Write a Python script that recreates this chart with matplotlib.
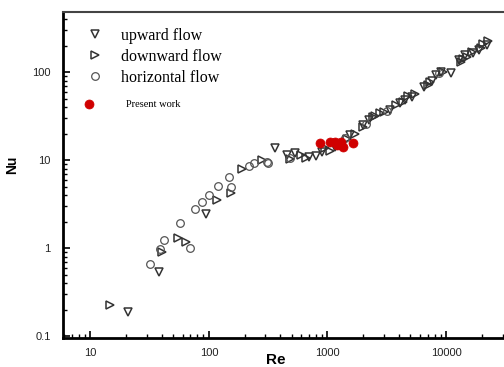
import matplotlib
matplotlib.use("Agg")
import matplotlib.pyplot as plt
from matplotlib.ticker import LogLocator, NullFormatter, FixedLocator, FixedFormatter

# ---- data ----
up_re = [20.7, 37.9, 95, 361, 457, 536, 700, 800, 906, 1150, 1540, 1990, 2260, 3370,
         4100, 4530, 5200, 6460, 7600, 8300, 9000, 11000, 12800, 14500, 17000, 19000, 22000]
up_nu = [0.187, 0.53, 2.43, 13.7, 11.4, 12.0, 10.9, 11.0, 12.3, 14.0, 19.2, 25, 28.5, 37,
         44, 48, 52, 67.5, 80, 92, 100, 97, 137, 155, 164, 180, 203]

down_re = [14.8, 40.2, 55, 64.6, 116, 155, 189, 283, 480, 600, 660, 960, 1050, 1200, 1450,
           1720, 2000, 2420, 2510, 2800, 3000, 3790, 4300, 4800, 5500, 7000, 7370, 9500,
           13500, 14000, 15000, 16500, 19600, 20500, 22500]
down_nu = [0.225, 0.90, 1.30, 1.17, 3.5, 4.2, 7.9, 10.0, 10.2, 11.5, 10.5, 13.7, 12.8, 15.5,
           17.5, 20, 24, 30.9, 32, 34, 35, 42, 46, 54, 57, 72, 77, 100,
           130, 140, 148, 170, 187, 210, 225]

hor_re = [31.8, 38.7, 41.8, 57, 69.7, 76.7, 88, 100, 120, 149, 155, 217, 240, 309, 318,
          480, 1400, 2100, 3200, 8800]
hor_nu = [0.66, 0.97, 1.23, 1.92, 1.0, 2.77, 3.33, 4.0, 5.07, 6.4, 4.9, 8.5, 9.2, 9.5, 9.3,
          10.5, 18, 26, 36, 98]

pw_re = [870, 1060, 1150, 1200, 1290, 1290, 1340, 1630]
pw_nu = [15.6, 16.0, 16.0, 15.0, 16.0, 14.8, 14.1, 15.5]

x_ticks = [10, 100, 1000, 10000]
x_labels = ["10", "100", "1000", "10000"]
y_ticks = [0.1, 1, 10, 100]
y_labels = ["0.1", "1", "10", "100"]

# ---- figure ----
fig = plt.figure(figsize=(5.04, 3.67), dpi=100)
fig.patch.set_facecolor("white")
ax = fig.add_axes([63/504, 29/367, 445/504, 326/367])
ax.set_xscale("log")
ax.set_yscale("log")
ax.set_xlim(5.89, 33300)
ax.set_ylim(0.095, 481)

ec = "#333333"
ms = 6
h1, = ax.plot(up_re, up_nu, ls="none", marker="v", ms=ms, mfc="none", mec=ec, mew=1.1)
h2, = ax.plot(down_re, down_nu, ls="none", marker=">", ms=ms, mfc="none", mec=ec, mew=1.1)
h3, = ax.plot(hor_re, hor_nu, ls="none", marker="o", ms=5.5, mfc="none", mec="#555555", mew=0.9)
h4, = ax.plot(pw_re, pw_nu, ls="none", marker="o", ms=6.5, mfc="#d00000", mec="#d00000", mew=0.5)

serif = "Liberation Serif"
leg1 = ax.legend([h1, h2, h3], ["upward flow", "downward flow", "horizontal flow"],
                 loc="upper left", bbox_to_anchor=(0.035, 0.972), frameon=False,
                 prop={"family": serif, "size": 11.5}, handletextpad=1.05,
                 labelspacing=0.33, handlelength=1.2, borderaxespad=0)
ax.add_artist(leg1)
ax.legend([h4], ["Present work"], loc="upper left", bbox_to_anchor=(0.035, 0.743),
          frameon=False, prop={"family": serif, "size": 7.5}, handletextpad=3.0,
          handlelength=1.2, borderaxespad=0)

# spines
for s in ["left", "bottom"]:
    ax.spines[s].set_linewidth(2.0)
    ax.spines[s].set_color("black")
ax.spines["top"].set_linewidth(1.5)
ax.spines["top"].set_color("#444444")
ax.spines["right"].set_visible(False)

ax.xaxis.set_major_locator(FixedLocator(x_ticks))
ax.xaxis.set_major_formatter(FixedFormatter(x_labels))
ax.yaxis.set_major_locator(FixedLocator(y_ticks))
ax.yaxis.set_major_formatter(FixedFormatter(y_labels))
ax.xaxis.set_minor_locator(LogLocator(base=10, subs=range(2, 10)))
ax.yaxis.set_minor_locator(LogLocator(base=10, subs=range(2, 10)))
ax.xaxis.set_minor_formatter(NullFormatter())
ax.yaxis.set_minor_formatter(NullFormatter())

ax.tick_params(which="major", direction="in", length=5, width=1.2, top=False, right=False,
               labelsize=8, colors="black")
ax.tick_params(which="minor", direction="in", length=3, width=1.0, top=False, right=False)
ax.tick_params(axis="x", which="major", pad=7)
ax.tick_params(axis="y", which="major", pad=9)
for lab in ax.get_xticklabels() + ax.get_yticklabels():
    lab.set_family("Liberation Sans")
    lab.set_color("#222222")

fig.text(12/504, 1 - 165/367, "Nu", rotation=90, ha="center", va="center",
         fontsize=10, fontweight="bold", family="Liberation Sans")
fig.text(276/504, 1 - 360/367, "Re", ha="center", va="center",
         fontsize=11, fontweight="bold", family="Liberation Sans")

fig.savefig("out.png", dpi=100, facecolor="white")
